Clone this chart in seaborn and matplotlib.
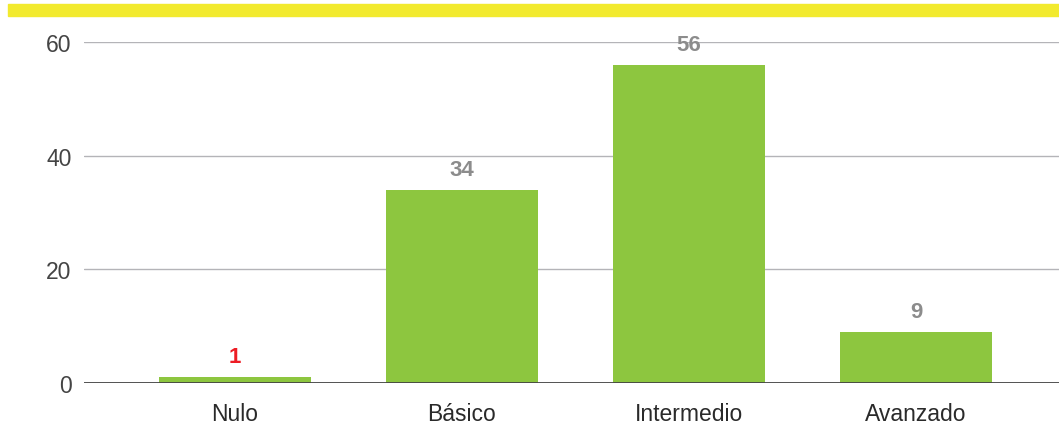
import matplotlib
matplotlib.use("Agg")
import matplotlib.pyplot as plt
import seaborn as sns
import pandas as pd
from matplotlib.patches import Rectangle

categories = ["Nulo", "Básico", "Intermedio", "Avanzado"]
values = [1, 34, 56, 9]
label_colors = ["#ED1C24", "#8C8C8C", "#8C8C8C", "#8C8C8C"]
yticks = [0, 20, 40, 60]

sns.set_theme(style="white")
plt.rcParams["font.family"] = ["Liberation Sans", "DejaVu Sans"]

df = pd.DataFrame({"nivel": categories, "valor": values})

fig = plt.figure(figsize=(10.59, 4.27), dpi=100)
ax = fig.add_axes([0.0793, 0.101, 0.9207, 0.798])

sns.barplot(data=df, x="nivel", y="valor", color="#8DC63F", saturation=1,
            width=0.67, linewidth=0, edgecolor="none", ax=ax, zorder=2)

ax.set_ylim(0, 60)
ax.set_xlim(-0.665, 3.63)
ax.set_yticks(yticks)
ax.set_yticklabels([str(t) for t in yticks])
ax.set_xlabel("")
ax.set_ylabel("")

for t in yticks[1:]:
    ax.axhline(t, color="#B4B4B8", lw=1.0, zorder=0)
ax.axhline(0, color="#444444", lw=1.3, zorder=3)

for s in ax.spines.values():
    s.set_visible(False)

ax.tick_params(axis="y", length=0, pad=9, labelsize=16.5, labelcolor="#444444")
ax.tick_params(axis="x", length=0, pad=14, labelsize=16.5, labelcolor="#2A2A2A")

for i, (v, c) in enumerate(zip(values, label_colors)):
    ax.annotate(str(v), (i, v), xytext=(0, 7), textcoords="offset points",
                ha="center", va="bottom", fontsize=16, fontweight="bold",
                color=c, clip_on=False)

# yellow header band
fig.patches.append(Rectangle((8 / 1059, 1 - 17 / 427), 1 - 8 / 1059, 12 / 427,
                             transform=fig.transFigure, color="#F2EA2E",
                             zorder=0))

fig.savefig("out.png", dpi=100)
